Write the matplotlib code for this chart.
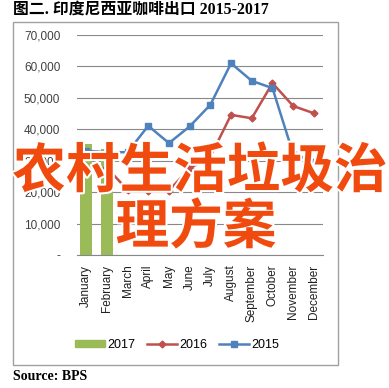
import matplotlib.pyplot as plt
import matplotlib.patheffects as pe
from matplotlib.patches import Rectangle
from matplotlib.lines import Line2D
from matplotlib.patches import Patch

# Data
months = ["January", "February", "March", "April", "May", "June", "July",
          "August", "September", "October", "November", "December"]
exports_2017 = [35300, 33800]
exports_2016 = [26900, 27800, 20700, 20300, 20500, 27600, 31300,
                44600, 43500, 54700, 47400, 45100]
exports_2015 = [33200, 32700, 32700, 41100, 35600, 40900, 47800,
                61000, 55400, 53100, 32200, 29700]
yticks = [0, 10000, 20000, 30000, 40000, 50000, 60000, 70000]
ytick_labels = ["-", "10,000", "20,000", "30,000", "40,000", "50,000", "60,000", "70,000"]

green = "#9BBB59"
red = "#C0504D"
blue = "#4F81BD"

W, H = 389, 388
fig = plt.figure(figsize=(W / 100, H / 100), dpi=100)

# outer frame of the chart
fig.patches.append(Rectangle((13 / W, 1 - 365 / H), 325 / W, 343 / H,
                             transform=fig.transFigure, fill=False,
                             edgecolor="#A0A0A0", linewidth=1))

ax = fig.add_axes([77 / W, 1 - 255 / H, 246 / W, 220 / H])
x = list(range(len(months)))

ax.bar(x[:len(exports_2017)], exports_2017, width=0.55, color=green, zorder=2)
ax.plot(x, exports_2016, color=red, linewidth=1.8, marker="D", markersize=3.5, zorder=3)
ax.plot(x, exports_2015, color=blue, linewidth=1.8, marker="s", markersize=4.5, zorder=4)

ax.set_ylim(0, 70000)
ax.set_xlim(-0.44, 11.44)
ax.set_yticks(yticks)
ax.set_yticklabels(ytick_labels, fontsize=8.5, color="#404040", family="Liberation Sans")
ax.set_xticks(x)
ax.set_xticklabels(months, rotation=90, fontsize=8.5, color="#202020", family="Liberation Sans")
ax.tick_params(axis="both", length=0)
ax.tick_params(axis="y", pad=12)
ax.tick_params(axis="x", pad=7)
ax.grid(axis="y", color="#888888", linewidth=0.8, zorder=0)
ax.set_axisbelow(True)
for s in ["top", "right", "left"]:
    ax.spines[s].set_visible(False)
ax.spines["bottom"].set_color("#888888")
ax.spines["bottom"].set_linewidth(0.8)

handles = [Patch(color=green, label="2017"),
           Line2D([0], [0], color=red, linewidth=1.8, marker="D", markersize=3.5, label="2016"),
           Line2D([0], [0], color=blue, linewidth=1.8, marker="s", markersize=4.5, label="2015")]
fig.legend(handles=handles, loc="center", bbox_to_anchor=(177 / W, 1 - 345 / H),
           ncol=3, frameon=False, handlelength=2.4, handleheight=0.5,
           handletextpad=0.2, columnspacing=0.9,
           prop={"family": "Liberation Sans", "size": 9})

fig.text(13 / W, 1 - 10 / H, "图二. 印度尼西亚咖啡出口 2015-2017", fontsize=11.4,
         fontweight="bold", va="center", ha="left",
         family=["Liberation Serif", "Noto Sans CJK SC"])
fig.text(13 / W, 1 - 377 / H, "Source: BPS", fontsize=10, fontweight="bold",
         va="center", ha="left", family="Liberation Serif")

# overlay text across the chart
stroke = [pe.withStroke(linewidth=3, foreground="white")]
fig.text(200 / W, 1 - 172 / H, "农村生活垃圾治", fontsize=38.6, color="#F04A0E",
         fontweight="bold", ha="center", va="center", family="Noto Sans CJK SC",
         path_effects=stroke)
fig.text(196 / W, 1 - 228 / H, "理方案", fontsize=38.6, color="#F04A0E",
         fontweight="bold", ha="center", va="center", family="Noto Sans CJK SC",
         path_effects=stroke)

fig.savefig("out.png", dpi=100)
